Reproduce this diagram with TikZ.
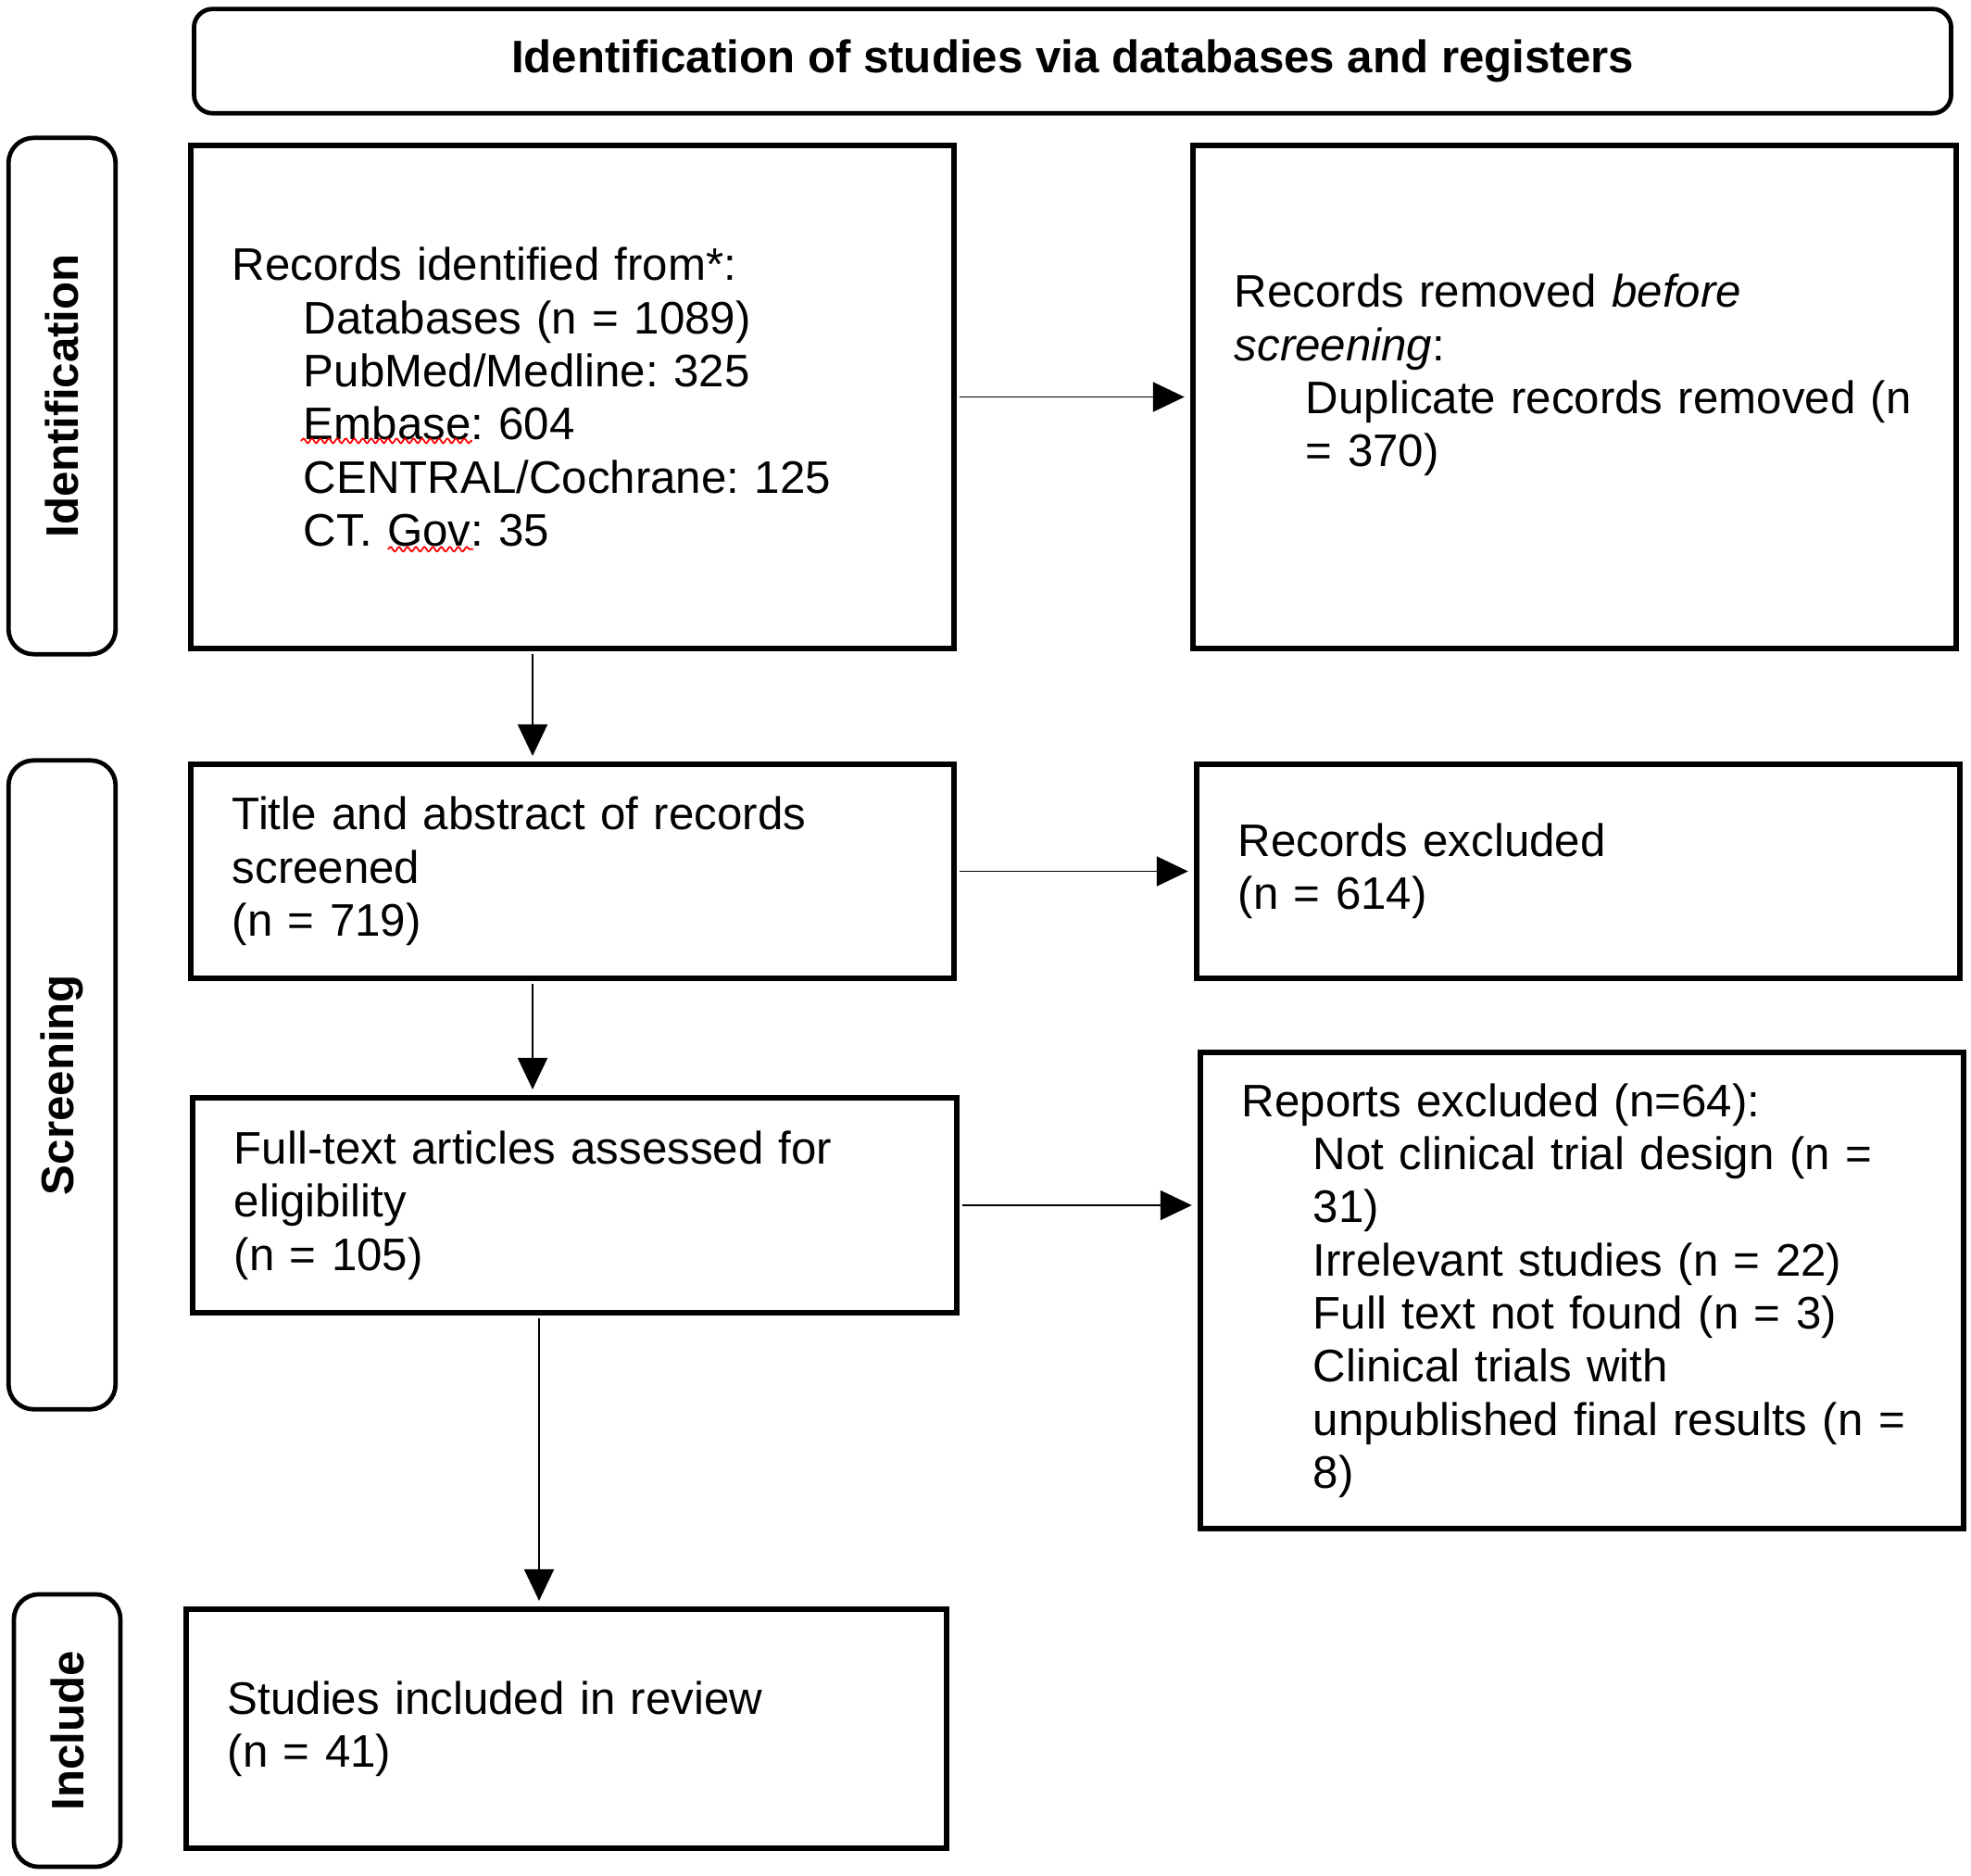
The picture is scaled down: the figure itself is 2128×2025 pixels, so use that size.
\documentclass[tikz,border=0pt]{standalone}
\usepackage{fontspec}
\setmainfont{Liberation Sans}
\usetikzlibrary{arrows.meta,calc,decorations.pathmorphing}
\newcommand\ind{\hspace*{0.77cm}}
\frenchspacing
\begin{document}
\begin{tikzpicture}[x=0.01cm,y=-0.01cm,
  box/.style={draw, line width=1.7pt, align=left, inner xsep=0.45cm, inner ysep=0pt, font=\fontsize{14}{16.3}\selectfont},
  side/.style={draw, line width=1.35pt, rounded corners=0.27cm, inner sep=0pt, rotate=90, font=\bfseries\fontsize{14}{16.3}\selectfont},
  arr/.style={line width=0.55pt, shorten >=0.06cm, shorten <=0.03cm, -{Triangle[length=0.34cm,width=0.32cm]}},
  squig/.style={draw=red, line width=0.5pt, decorate, decoration={snake, amplitude=0.7pt, segment length=2.6pt}}]
\useasboundingbox (0,0) rectangle (2128,2025);

\node[draw, line width=1.35pt, rounded corners=0.2cm, minimum width=18.96cm, minimum height=1.125cm,
  font=\bfseries\fontsize{14}{16.3}\selectfont] (title) at (1158,66) {Identification of studies via databases and registers};

\node[side, minimum width=5.57cm, minimum height=1.155cm] (sid) at (67,427.5) {Identification};
\node[side, minimum width=7.00cm, minimum height=1.155cm] (sscr) at (67,1171) {Screening};
\node[side, minimum width=2.94cm, minimum height=1.15cm] (sinc) at (72.5,1868) {Include};

\node[box, minimum width=8.24cm, minimum height=5.43cm, text width=7.34cm] (box1) at (618,428.5)
  {\mbox{Records identified from*:}\\
   \mbox{\ind Databases (n = 1089)}\\
   \mbox{\ind PubMed/Medline: 325}\\
   \mbox{\ind Embase: 604}\\
   \mbox{\ind CENTRAL/Cochrane: 125}\\
   \mbox{\ind CT. Gov: 35}};

\node[box, minimum width=8.24cm, minimum height=5.43cm, text width=7.34cm] (box2) at (1700,428.5)
  {\mbox{Records removed \textit{before}}\\
   \mbox{\textit{screening}:}\\
   \mbox{\ind Duplicate records removed (n}\\
   \mbox{\ind = 370)}\\
   \mbox{}};

\node[box, minimum width=8.24cm, minimum height=2.31cm, text width=7.34cm] (box3) at (618,940.5)
  {\mbox{Title and abstract of records}\\
   \mbox{screened}\\
   \mbox{(n = 719)}};

\node[box, minimum width=8.24cm, minimum height=2.31cm, text width=7.34cm] (box4) at (1704,940.5)
  {\mbox{Records excluded}\\
   \mbox{(n = 614)}};

\node[box, minimum width=8.25cm, minimum height=2.32cm, text width=7.35cm] (box5) at (620.5,1301)
  {\mbox{Full-text articles assessed for}\\
   \mbox{eligibility}\\
   \mbox{(n = 105)}};

\node[box, minimum width=8.24cm, minimum height=5.14cm, text width=7.34cm] (box6) at (1708,1393)
  {\mbox{Reports excluded (n=64):}\\
   \mbox{\ind Not clinical trial design (n =}\\
   \mbox{\ind 31)}\\
   \mbox{\ind Irrelevant studies (n = 22)}\\
   \mbox{\ind Full text not found (n = 3)}\\
   \mbox{\ind Clinical trials with}\\
   \mbox{\ind unpublished final results (n =}\\
   \mbox{\ind 8)}};

\node[box, minimum width=8.21cm, minimum height=2.58cm, text width=7.31cm] (box7) at (611.5,1866)
  {\mbox{Studies included in review}\\
   \mbox{(n = 41)}};

\coordinate (c1) at (575,0);
\coordinate (c2) at (582,0);

\draw[arr] (box1.east) -- (box2.west);
\draw[arr] (box3.east) -- (box4.west);
\draw[arr] (box5.east) -- (box5.east -| box6.west);
\draw[arr] (box1.south -| c1) -- (box3.north -| c1);
\draw[arr] (box3.south -| c1) -- (box5.north -| c1);
\draw[arr] (box5.south -| c2) -- (box7.north -| c2);

\draw[squig] ($(box1.north west)+(122,322)$) -- ($(box1.north west)+(307,322)$);
\draw[squig] ($(box1.north west)+(216,439)$) -- ($(box1.north west)+(308,439)$);
\end{tikzpicture}
\end{document}
